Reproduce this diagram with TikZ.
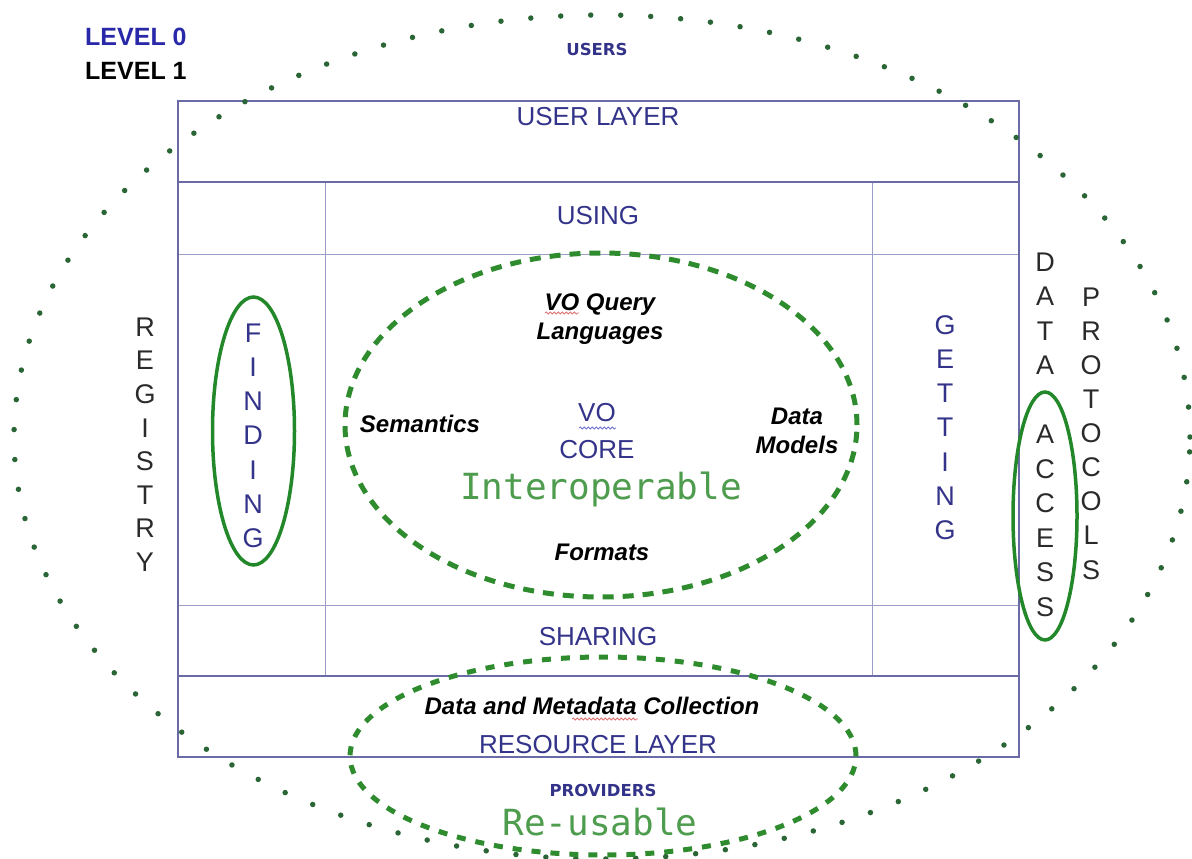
\documentclass[tikz,border=0pt]{standalone}
\usepackage{fontspec}
\setmainfont{Liberation Sans}
\newfontfamily\dvs{DejaVu Sans}
\newfontfamily\dvm{DejaVu Sans Mono}
\usetikzlibrary{decorations.pathmorphing}
\definecolor{boxc}{HTML}{6A6AA6}
\definecolor{boxl}{HTML}{9C9CC8}
\definecolor{bluet}{HTML}{33338A}
\definecolor{lvlblue}{HTML}{2828A8}
\definecolor{darkt}{HTML}{2A2A2A}
\definecolor{dotg}{HTML}{2A6535}
\definecolor{dashg}{HTML}{2E8B2E}
\definecolor{ellg}{HTML}{22882A}
\definecolor{lightg}{HTML}{4E9C4E}
\definecolor{squigr}{HTML}{E07070}
\definecolor{squigb}{HTML}{7070D0}
\tikzset{
  layertxt/.style={text=bluet, font=\fontsize{26}{30}\selectfont, inner sep=0pt},
  vlet/.style={font=\fontsize{27}{30}\selectfont, inner sep=0pt},
  bi/.style={text=black, font=\fontsize{24}{28}\selectfont\bfseries\itshape, inner sep=0pt, anchor=base},
  smallcap/.style={text=bluet, font=\dvs\bfseries\fontsize{16.5}{18}\selectfont, inner sep=0pt},
  bigmono/.style={text=lightg, font=\dvm\fontsize{36}{40}\selectfont, inner sep=0pt, anchor=base},
  dotell/.style={draw=dotg, line width=5.5pt, line cap=round, dash pattern=on 0pt off 30pt},
  dashell/.style={draw=dashg, line width=5pt, dash pattern=on 11pt off 9pt},
  solidell/.style={draw=ellg, line width=3.5pt},
  squig/.style={decorate, decoration={snake, segment length=4pt, amplitude=1pt}, line width=0.8pt}
}
\begin{document}
\begin{tikzpicture}[x=1pt,y=-1pt]
\useasboundingbox (0,0) rectangle (1192,859);
% frame
\coordinate (tl) at (178,101);
\coordinate (br) at (1019,757);
\draw[boxl, line width=0.9pt] (178,254) -- (1019,254);
\draw[boxl, line width=0.9pt] (178,605) -- (1019,605);
\draw[boxl, line width=0.9pt] (325,182) -- (325,676);
\draw[boxl, line width=0.9pt] (872,182) -- (872,676);
\draw[boxc, line width=1.6pt] (178,182) -- (1019,182);
\draw[boxc, line width=1.6pt] (178,676) -- (1019,676);
\draw[boxc, line width=1.6pt] (tl) rectangle (br);
% ellipses
\draw[dotell] (602,437) ellipse [x radius=588pt, y radius=422pt];
\draw[dashell] (601,425) ellipse [x radius=256pt, y radius=172pt];
\draw[dashell, dash pattern=on 9pt off 10pt] (603,756) ellipse [x radius=253pt, y radius=99pt];
\draw[solidell] (253.5,431) ellipse [x radius=41pt, y radius=134pt];
\draw[solidell] (1045,516) ellipse [x radius=32pt, y radius=124pt];
% legend
\node[anchor=west, text=lvlblue, font=\fontsize{25}{28}\selectfont\bfseries, inner sep=0pt] (lvl0) at (85,37) {LEVEL 0};
\node[anchor=west, text=black, font=\fontsize{25}{28}\selectfont\bfseries, inner sep=0pt] (lvl1) at (85,71) {LEVEL 1};
% labels
\node[smallcap] (users) at (597,49) {USERS};
\node[smallcap] (providers) at (603,790) {PROVIDERS};
\node[layertxt] (userlayer) at (598,117) {USER LAYER};
\node[layertxt] (using) at (598,216) {USING};
\node[layertxt] (sharing) at (598,637) {SHARING};
\node[layertxt] (reslayer) at (598,745) {RESOURCE LAYER};
\node[bi] (dmc) at (592,714.5) {Data and Metadata Collection};
\node[bi] (voq) at (600,310.5) {VO Query};
\node[bi] (lang) at (600,339.5) {Languages};
\node[bi] (sem) at (420,432.5) {Semantics};
\node[bi] (data) at (797,424.5) {Data};
\node[bi] (models) at (797,453.5) {Models};
\node[bi] (formats) at (602,560.5) {Formats};
\node[layertxt, anchor=base] (vo) at (597,421.5) {VO};
\node[layertxt, anchor=base] (core) at (597,458.5) {CORE};
\node[bigmono] (interop) at (601,499) {Interoperable};
\node[bigmono] (reuse) at (600,835) {Re-usable};
% spell-check squiggles
\draw[squig, squigr] (545,313) -- (579,313);
\draw[squig, squigr] (572,719) -- (638,719);
\draw[squig, squigb] (579,428) -- (616,428);
% vertical words
\foreach \l [count=\i] in {R,E,G,I,S,T,R,Y}
  \node[vlet, text=darkt] (reg\i) at (145,{327+33.6*(\i-1)}) {\l};
\foreach \l [count=\i] in {F,I,N,D,I,N,G}
  \node[vlet, text=bluet] (find\i) at (253,{333+34.2*(\i-1)}) {\l};
\foreach \l [count=\i] in {G,E,T,T,I,N,G}
  \node[vlet, text=bluet] (get\i) at (945,{325+34.2*(\i-1)}) {\l};
\foreach \l/\k in {D/0,A/1,T/2,A/3,A/5,C/6,C/7,E/8,S/9,S/10}
  \node[vlet, text=darkt] (da\k) at (1045,{262+34.5*\k}) {\l};
\foreach \l [count=\i] in {P,R,O,T,O,C,O,L,S}
  \node[vlet, text=darkt] (prot\i) at (1091,{297+34.1*(\i-1)}) {\l};
\end{tikzpicture}
\end{document}
